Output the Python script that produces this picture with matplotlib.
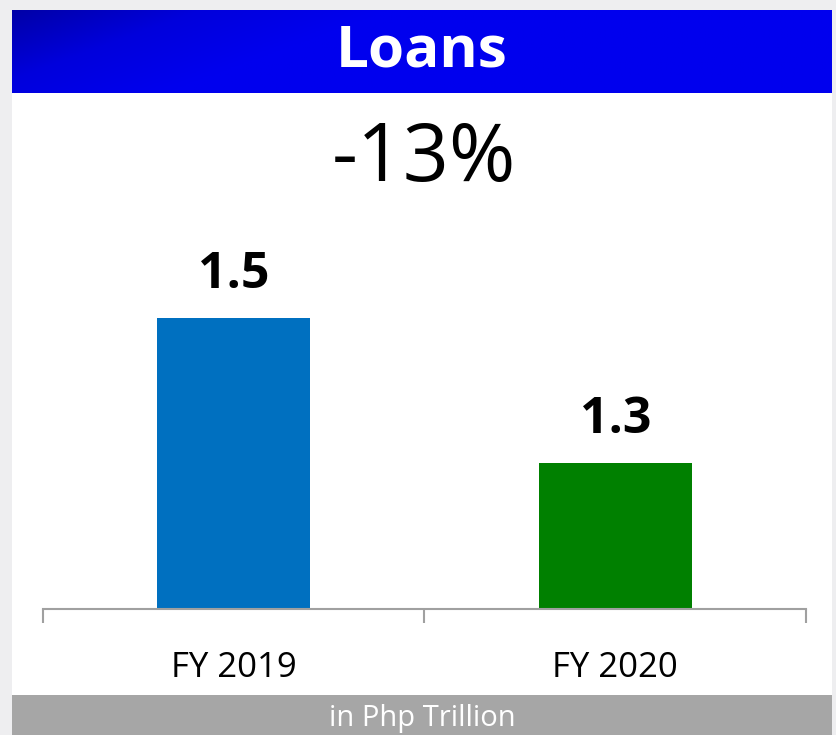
import numpy as np
import matplotlib.pyplot as plt
from matplotlib.colors import LinearSegmentedColormap

# data
years = ["FY 2019", "FY 2020"]
loans = [1.5, 1.3]
bar_colors = ["#0070c0", "#008000"]
change_label = "-13%"
title = "Loans"
unit_label = "in Php Trillion"

W, H = 837, 735
plt.rcParams['font.family'] = ['Open Sans', 'DejaVu Sans']


def main():
    fig = plt.figure(figsize=(W / 100, H / 100), dpi=100)
    fig.patch.set_facecolor("#eeeef0")

    # white panel
    panel = fig.add_axes([12 / W, 40 / H, 820 / W, 602 / H])
    panel.set_facecolor("white")
    panel.set_xticks([])
    panel.set_yticks([])
    for s in panel.spines.values():
        s.set_visible(False)

    # blue header with gradient
    hdr = fig.add_axes([12 / W, 1 - 93 / H, 820 / W, 83 / H])
    gx, gy = np.meshgrid(np.linspace(0, 1, 200), np.linspace(0, 1, 50))
    grad = np.clip(gx * 2.2 + gy * 0.6, 0, 1)
    cmap = LinearSegmentedColormap.from_list("hdr", ["#0000a8", "#0000dc", "#0000ee"])
    hdr.imshow(grad, cmap=cmap, aspect="auto", extent=[0, 1, 0, 1], origin="upper")
    hdr.set_axis_off()
    hdr.text(0.5, 0.5, title, color="white", fontsize=42, fontweight="bold",
             ha="center", va="center", transform=hdr.transAxes)

    # bottom gray bar
    ftr = fig.add_axes([12 / W, 0, 820 / W, 40 / H])
    ftr.set_facecolor("#a6a6a6")
    ftr.set_xticks([])
    ftr.set_yticks([])
    for s in ftr.spines.values():
        s.set_visible(False)
    ftr.text(0.5, 0.42, unit_label, color="white", fontsize=21,
             ha="center", va="center", transform=ftr.transAxes)

    fig.text(424 / W, 1 - 160 / H, change_label, fontsize=58, color="black",
             ha="center", va="center")

    # bar chart
    ax = fig.add_axes([43 / W, (H - 609) / H, 763 / W, 509 / H])
    ax.patch.set_alpha(0)
    x = np.arange(len(years))
    ax.bar(x, loans, width=0.4, color=bar_colors, bottom=0)
    ax.set_xlim(-0.5, 1.5)
    ax.set_ylim(1.1, 1.1 + 509 / 727.5)
    for xi, v in zip(x, loans):
        ax.text(xi, v + 0.025, f"{v:.1f}", ha="center", va="bottom",
                fontsize=36, fontweight="bold")
    for s in ["top", "left", "right"]:
        ax.spines[s].set_visible(False)
    ax.spines["bottom"].set_color("#a0a0a0")
    ax.spines["bottom"].set_linewidth(1.5)
    ax.set_yticks([])
    ax.set_xticks(x)
    ax.set_xticklabels(years, fontsize=25)
    ax.tick_params(axis="x", which="major", length=0, pad=30)
    ax.set_xticks([-0.5, 0.5, 1.5], minor=True)
    ax.tick_params(axis="x", which="minor", length=10, width=1.5, color="#a0a0a0")

    fig.savefig("out.png", dpi=100, facecolor=fig.get_facecolor())


if __name__ == "__main__":

    main()
